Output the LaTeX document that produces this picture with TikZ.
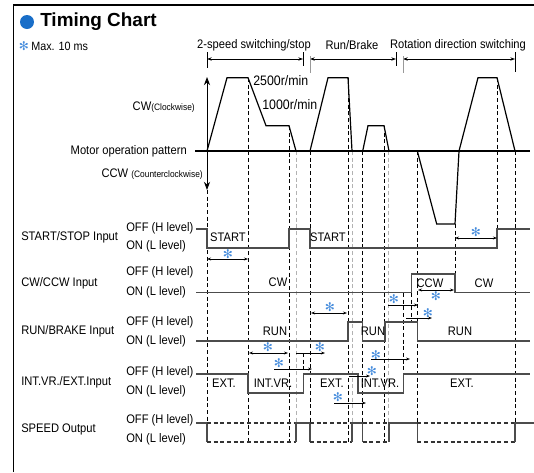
\documentclass[tikz,border=0pt]{standalone}
\usepackage{fontspec}
\setmainfont{Liberation Sans}[FakeStretch=0.9]
\newfontfamily\titlefont{Liberation Sans}
\newfontfamily\symfont{DejaVu Sans}
\usetikzlibrary{arrows.meta, positioning}
\definecolor{chartblue}{RGB}{25,110,200}
\definecolor{starblue}{RGB}{70,140,220}

\begin{document}
\begin{tikzpicture}[
  x=0.75pt, y=-0.75pt,
  font=\fontsize{9.3}{10}\selectfont, >=Stealth,
  lbl/.style={inner sep=0pt, anchor=west},
  rlbl/.style={inner sep=0pt, anchor=east},
  ctr/.style={inner sep=0pt},
  sig/.style={line width=0.9pt, black!70},
  mot/.style={line width=0.9pt, black},
  tl/.style={dash pattern=on 3pt off 2pt, line width=0.6pt, black},
  tlg/.style={tl, black!30},
  pulse/.style={dash pattern=on 3pt off 2pt, line width=0.8pt, black!80},
  dly/.style={{Stealth[length=3pt,width=2.2pt]}-{Stealth[length=3pt,width=2.2pt]}, line width=0.6pt},
  dlyr/.style={-{Stealth[length=3pt,width=2.2pt]}, line width=0.6pt},
  astr/.style={inner sep=0pt, text=starblue, font=\symfont\fontsize{9}{9}\selectfont},
  rng/.style={{Stealth[length=3.5pt,width=2.5pt]}-{Stealth[length=3.5pt,width=2.5pt]}, line width=0.6pt}
]
  \useasboundingbox (0,0) rectangle (534,472);
  \draw[line width=1.3pt] (13.5,472) -- (13.5,5) -- (534,5);

  \node[circle, fill=chartblue, minimum size=10.5pt, inner sep=0pt] (dot) at (27,22) {};
  \node[lbl, font=\titlefont\bfseries\fontsize{14.2}{16}\selectfont] (title) at (40,22) {Timing Chart};
  \node[astr] (maxstar) at (24,46) {✻};
  \node[lbl, font=\fontsize{9}{10}\selectfont] (maxtxt) at (31,46) {Max. 10 ms};

  \node[ctr] (hdspeed) at (254,45) {2-speed switching/stop};
  \node[ctr] (hdrun)   at (352,45) {Run/Brake};
  \node[ctr] (hdrot)   at (458,45) {Rotation direction switching};
  \draw[rng] (207,59) -- (303,59);
  \draw[rng] (310,59) -- (396,59);
  \draw[rng] (403,59) -- (515,59);
  \draw[line width=0.7pt] (207,52) -- (207,68);
  \draw[line width=0.7pt] (303,52) -- (303,66);
  \draw[line width=0.7pt, black!40] (310,56) -- (310,73);
  \draw[line width=0.7pt] (396,52) -- (396,66);
  \draw[line width=0.7pt, black!40] (403,56) -- (403,73);
  \draw[line width=0.7pt] (515,52) -- (515,72);

  \node[rlbl] (cwlbl)  at (195,107) {CW{\fontsize{7}{8}\selectfont(Clockwise)}};
  \node[rlbl] (motlbl) at (187,151) {Motor operation pattern};
  \node[rlbl] (ccwlbl) at (203,174) {CCW {\fontsize{7}{8}\selectfont(Counterclockwise)}};
  \node[lbl, font=\fontsize{10.3}{12}\selectfont] (hi)  at (253,81)  {2500r/min};
  \node[lbl, font=\fontsize{10.3}{12}\selectfont] (low) at (262,105) {1000r/min};

  \node[lbl] (ssin)  at (21,237) {START/STOP Input};
  \node[lbl] (cwin)  at (21,283) {CW/CCW Input};
  \node[lbl] (rbin)  at (21,331) {RUN/BRAKE Input};
  \node[lbl] (ieein) at (21,382) {INT.VR./EXT.Input};
  \node[lbl] (spout) at (21,429) {SPEED Output};
  \node[lbl] (ssoff)  at (126,228) {OFF (H level)};
  \node[lbl] (sson)   at (126,246) {ON (L level)};
  \node[lbl] (cwoff)  at (126,272) {OFF (H level)};
  \node[lbl] (cwon)   at (126,292) {ON (L level)};
  \node[lbl] (rboff)  at (126,322) {OFF (H level)};
  \node[lbl] (rbon)   at (126,341) {ON (L level)};
  \node[lbl] (ieeoff) at (126,372) {OFF (H level)};
  \node[lbl] (ieeon)  at (126,391) {ON (L level)};
  \node[lbl] (spoff)  at (126,420) {OFF (H level)};
  \node[lbl] (spon)   at (126,439) {ON (L level)};

  \draw[tl] (207,190) -- (207,442);
  \draw[tl] (248,78) -- (248,442);
  \draw[tl] (289,126) -- (289,442);
  \draw[tlg] (296,151) -- (296,442);
  \draw[tl] (310,151) -- (310,442);
  \draw[tl] (348,78) -- (348,442);
  \draw[tlg] (352,151) -- (352,442);
  \draw[tl] (362.7,151) -- (362.7,442);
  \draw[tl] (384,126) -- (384,442);
  \draw[tlg] (388.3,151) -- (388.3,442);
  \draw[tl] (417.3,151) -- (417.3,442);
  \draw[tl] (515,151) -- (515,442);
  \draw[tl] (497,78) -- (497,238);
  \draw[tl] (455,224) -- (455,292.7);
  \draw[tl] (303.5,353) -- (303.5,374);
  \draw[tl] (403.3,293) -- (403.3,374);
  \draw[tl] (411.7,293) -- (411.7,320);

  \draw[mot] (195,151) -- (530,151);
  \draw[<->, line width=0.7pt] (207,77) -- (207,190);
  \draw[mot] (207,151) -- (227,77.7) -- (248,77.7) -- (266,125.7) -- (289,125.7) -- (296,151)
    -- (310,151) -- (328,77.7) -- (348,77.7) -- (352,151) -- (362.7,151) -- (368,125.7)
    -- (384,125.7) -- (389,151) -- (417.3,151) -- (436.7,224) -- (455,224) -- (459,151)
    -- (478,77.7) -- (497,77.7) -- (515,151);

  \draw[sig] (196,229) -- (207,229) -- (207,248) -- (289,248) -- (289,229) -- (310,229)
    -- (310,248) -- (497,248) -- (497,229) -- (530,229);
  \draw[sig] (196,292.7) -- (411.7,292.7) -- (411.7,274) -- (455,274) -- (455,292.7) -- (530,292.7);
  \draw[sig] (196,341) -- (348,341) -- (348,322) -- (362.7,322) -- (362.7,341) -- (385,341)
    -- (385,322) -- (417.3,322) -- (417.3,341) -- (530,341);
  \draw[sig] (196,374) -- (248,374) -- (248,393) -- (303.5,393) -- (303.5,374) -- (358,374)
    -- (358,393) -- (403.3,393) -- (403.3,374) -- (530,374);

  \draw[sig] (196,423) -- (207,423) -- (207,442);
  \draw[pulse] (207,423) -- (296,423);
  \draw[pulse] (207,442) -- (296,442);
  \draw[sig] (296,442) -- (296,423) -- (310,423) -- (310,442);
  \draw[pulse] (310,423) -- (352,423);
  \draw[pulse] (310,442) -- (352,442);
  \draw[sig] (352,442) -- (352,423) -- (362.7,423) -- (362.7,442);
  \draw[pulse] (362.7,423) -- (389,423);
  \draw[pulse] (362.7,442) -- (389,442);
  \draw[sig] (389,442) -- (389,423) -- (417.3,423) -- (417.3,442);
  \draw[pulse] (417.3,423) -- (515,423);
  \draw[pulse] (417.3,442) -- (515,442);
  \draw[sig] (515,442) -- (515,423) -- (534,423);

  \node[ctr] (start1) at (228,237) {START};
  \node[ctr] (start2) at (328,237) {START};
  \node[ctr] (cw1)  at (278,282) {CW};
  \node[ctr] (ccw)  at (430,283) {CCW};
  \node[ctr] (cw2)  at (484,283) {CW};
  \node[ctr] (run1) at (275,331) {RUN};
  \node[ctr] (run2) at (373,331) {RUN};
  \node[ctr] (run3) at (460,331) {RUN};
  \node[ctr] (ext1) at (224,383) {EXT.};
  \node[ctr] (int1) at (273,383) {INT.VR.};
  \node[ctr] (ext2) at (332,383) {EXT.};
  \node[ctr] (int2) at (380,383) {INT.VR.};
  \node[ctr] (ext3) at (462,383) {EXT.};

  \node[astr] (d1)  at (228,254) {✻};
  \draw[dly] (207,259) -- (248,259);
  \node[astr] (d2)  at (476,232) {✻};
  \draw[dly] (455,238) -- (497,238);
  \node[astr] (d3)  at (436,296) {✻};
  \draw[dly] (418,290) -- (454,290);
  \node[astr] (d4)  at (394,299) {✻};
  \draw[dlyr] (388,305) -- (418,305);
  \node[astr] (d5)  at (330,307) {✻};
  \draw[dly] (311,313) -- (347,313);
  \node[astr] (d6)  at (428,313) {✻};
  \draw[dlyr] (406,318) -- (432,318);
  \node[astr] (d7)  at (268,347) {✻};
  \draw[dly] (249,353) -- (288,353);
  \node[astr] (d8)  at (320,347) {✻};
  \draw[dlyr] (296,353) -- (325,353);
  \node[astr] (d9)  at (376,355) {✻};
  \draw[dlyr] (371,359) -- (410,359);
  \node[astr] (d10) at (279,363) {✻};
  \draw[dlyr] (274,369) -- (312,369);
  \node[astr] (d11) at (372,371) {✻};
  \draw[dlyr] (349,376) -- (370,376);
  \node[astr] (d12) at (338,397) {✻};
  \draw[dlyr] (334,403) -- (366,403);
\end{tikzpicture}
\end{document}
